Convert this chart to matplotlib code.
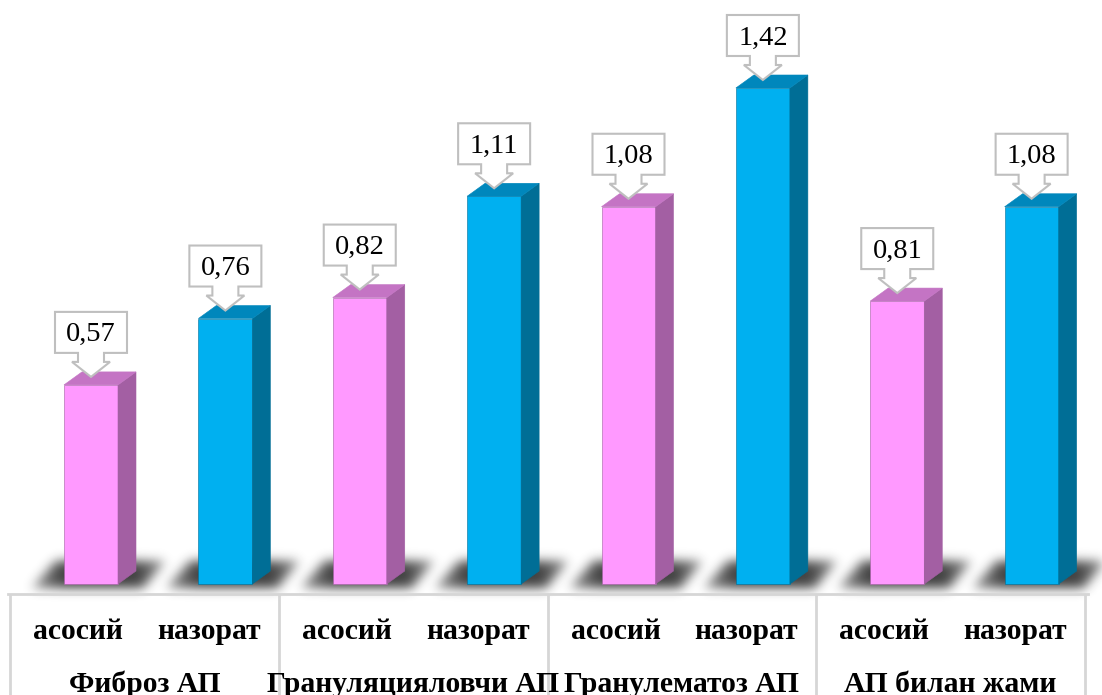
import numpy as np
import matplotlib
matplotlib.use("Agg")
import matplotlib.pyplot as plt
from matplotlib.patches import Polygon
from matplotlib.path import Path

# ---- data ----
groups = ["Фиброз АП", "Грануляцияловчи АП", "Гранулематоз АП", "АП билан жами"]
series = ["асосий", "назорат"]
main_vals = [0.57, 0.82, 1.08, 0.81]
control_vals = [0.76, 1.11, 1.42, 1.08]

# ---- styling ----
FRONT = {"асосий": "#FF99FF", "назорат": "#00B0F0"}
SIDE = {"асосий": "#A35FA3", "назорат": "#006E96"}
TOP = {"асосий": "#C474C4", "назорат": "#0087BC"}
SERIF = ["Liberation Serif", "DejaVu Serif"]

W, H = 1102, 695
SX = 134.375      # pixels per category slot
SY = 349.3        # pixels per value unit
X0, Y0 = 10, 584  # pixel position of slot 0 / value 0 (y measured from top)


def dx(p):
    return p / SX


def dy(p):
    return p / SY


def yp(p):
    # pixel row (from top) -> data y
    return (Y0 - p) / SY


fig = plt.figure(figsize=(W / 100, H / 100), dpi=100)
ax = fig.add_axes([0, 0, 1, 1])
xlim = (-X0 / SX, (W - X0) / SX)
ylim = (-(H - Y0) / SY, Y0 / SY)
ax.set_xlim(*xlim)
ax.set_ylim(*ylim)
ax.axis("off")

bar_w = dx(54)
depth_x, depth_y = dx(18), dy(13)

bars = []
for g in range(len(groups)):
    for s, vals in enumerate([main_vals, control_vals]):
        slot = 2 * g + s
        bars.append((slot + dx(54), vals[g], series[s]))

# ---- soft floor shadows (darkest next to each bar, fading outwards) ----
gx = (np.arange(W) + 0.5 - X0) / SX
gy = (Y0 - (np.arange(H) + 0.5)) / SY
GX, GY = np.meshgrid(gx, gy)
pts = np.column_stack([GX.ravel(), GY.ravel()])
mask = np.zeros(H * W)
yb, yt = yp(588), yp(561)
for left, v, s in bars:
    right = left + bar_w
    poly = Path([(left - dx(32), yb), (right + dx(25), yb),
                 (right + dx(47), yt), (left - dx(8), yt)])
    inside = poly.contains_points(pts).astype(float)
    # fade with distance from the bar footprint
    dist = np.maximum(left - pts[:, 0], pts[:, 0] - (right + depth_x))
    dist = np.clip(dist * SX, 0, None)
    weight = 1.0 - 0.55 * np.clip(dist / 40.0, 0, 1)
    mask = np.maximum(mask, inside * weight)
mask = mask.reshape(H, W)

sigma = 5.5
k = np.arange(-16, 17)
kern = np.exp(-k ** 2 / (2 * sigma ** 2))
kern /= kern.sum()
mask = np.apply_along_axis(lambda r: np.convolve(r, kern, mode="same"), 1, mask)
mask = np.apply_along_axis(lambda c: np.convolve(c, kern, mode="same"), 0, mask)
shadow = np.zeros((H, W, 4))
shadow[..., :3] = 0.12
shadow[..., 3] = np.clip(mask * 0.85, 0, 1)
ax.imshow(shadow, extent=(xlim[0], xlim[1], ylim[0], ylim[1]), origin="upper",
          aspect="auto", interpolation="bilinear", zorder=1)
ax.set_xlim(*xlim)
ax.set_ylim(*ylim)

# ---- 3D-looking bars ----
for s_name in series:
    sel = [b for b in bars if b[2] == s_name]
    ax.bar([b[0] for b in sel], [b[1] for b in sel], width=bar_w, align="edge",
           color=FRONT[s_name], edgecolor=SIDE[s_name], linewidth=0.4, zorder=3)
for left, v, s in bars:
    right = left + bar_w
    ax.add_patch(Polygon([(right, 0), (right + depth_x, depth_y),
                          (right + depth_x, v + depth_y), (right, v)],
                         closed=True, facecolor=SIDE[s], edgecolor=SIDE[s],
                         linewidth=0.4, zorder=3))
    ax.add_patch(Polygon([(left, v), (right, v), (right + depth_x, v + depth_y),
                          (left + depth_x, v + depth_y)],
                         closed=True, facecolor=TOP[s], edgecolor=TOP[s],
                         linewidth=0.4, zorder=3))

# ---- down-arrow callouts with values ----
shape_px = [(0, 8), (19, 23), (13, 23), (13, 32), (36, 32), (36, 73),
            (-36, 73), (-36, 32), (-13, 32), (-13, 23), (-19, 23)]
for left, v, s in bars:
    cx = left + bar_w / 2
    verts = [(cx + dx(px), v + dy(py)) for px, py in shape_px]
    ax.add_patch(Polygon(verts, closed=True, facecolor="white",
                         edgecolor="#BFBFBF", linewidth=1.5, zorder=4))
    ax.text(cx, v + dy(43.5), f"{v:.2f}".replace(".", ","), ha="center",
            va="baseline", fontsize=20.5, family=SERIF, color="black", zorder=5)

# ---- category table under the bars ----
line_kw = dict(color="#D6D6D6", linewidth=2.0, clip_on=False, zorder=2)
ax.plot([dx(-2), 8 + dx(3)], [yp(594), yp(594)], **line_kw)
for k_ in range(len(groups) + 1):
    ax.plot([2 * k_, 2 * k_], [yp(595), ylim[0]], **line_kw)

for g, name in enumerate(groups):
    ax.text(2 * g + dx(23), yp(639), series[0], ha="left", va="baseline",
            fontsize=21.3, fontweight="bold", family=SERIF)
    ax.text(2 * g + 2 - dx(18), yp(639), series[1], ha="right", va="baseline",
            fontsize=21.3, fontweight="bold", family=SERIF)
    ax.text(2 * g + 1, yp(692), name, ha="center", va="baseline",
            fontsize=21.3, fontweight="bold", family=SERIF)

fig.savefig("out.png", dpi=100)
